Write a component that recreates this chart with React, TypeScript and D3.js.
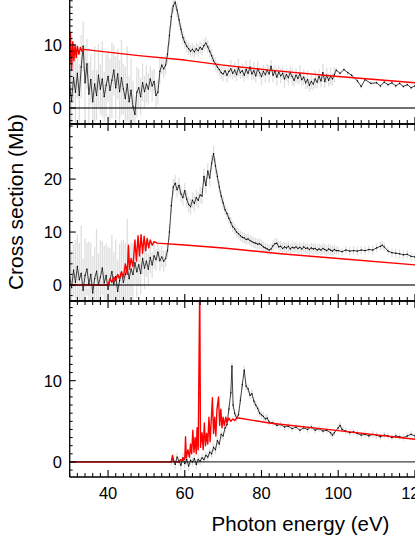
import React from "react";
import * as d3 from "d3";

// ---------- data ----------
const X_DOMAIN: [number, number] = [30, 122];
const X_MAJOR = [40, 60, 80, 100, 120];
const X_MINOR_STEP = 2;

// [energy eV, cross section Mb, error Mb]
const P1_DATA: [number, number, number][] = [
  [30.0,3.5,4],[30.5,1.2,5],[31.0,4.8,4],[31.5,2.5,6],[32.0,5.5,4],[32.5,2.0,5],[33.0,6.5,5],[33.5,9.8,4],
  [34.0,4.0,6],[34.5,7.0,4],[35.0,2.2,5],[35.5,4.5,4],[36.0,1.0,5],[36.5,3.8,6],[37.0,2.0,4],[37.5,5.2,5],
  [38.0,3.0,4],[38.5,4.6,6],[39.0,1.8,4],[39.5,3.6,5],[40.0,5.0,4],[40.5,2.8,5],[41.0,4.4,6],[41.5,6.0,4],
  [42.0,3.2,5],[42.5,5.4,4],[43.0,2.6,5],[43.5,4.8,6],[44.0,3.0,4],[44.5,1.5,5],[45.0,3.8,6],[45.5,1.0,4],
  [46.0,2.8,5],[46.5,0.2,4],[47.0,-1.0,3],[47.5,2.5,4],[48.0,3.2,3],[48.5,1.8,3],[49.0,4.0,3],[49.5,2.6,2.5],
  [50.0,3.8,3],[50.5,3.0,2.5],[51.0,4.6,2],[51.5,3.5,2.5],[52.0,4.2,2],[52.5,2.0,2],[53.0,2.5,2],[53.5,5.8,2],
  [54.0,6.8,1.5],[54.5,6.2,1.5],[55.0,6.8,1.5],[55.5,8.5,1.5],[56.0,11.5,1.5],[56.5,14.5,1.5],[57.0,16.2,1.2],
  [57.5,16.8,1.2],[58.0,15.5,1.2],[58.5,14.0,1.2],[59.0,12.5,1],[59.5,11.2,1],[60.0,10.4,1],[60.5,9.8,1],
  [61.0,9.4,1],[61.5,9.0,1],[62.0,9.3,1],[62.5,8.9,1],[63.0,9.4,1],[63.5,9.1,1],[64.0,9.6,1],[64.5,9.3,1],
  [65.0,9.9,1],[65.5,10.3,1],[66.0,9.7,1],[66.5,9.0,1],[67.0,8.3,1],[67.5,7.5,1],[68.0,7.0,1],[68.5,6.5,1],
  [69.0,6.1,1],[69.5,5.6,1],[70.0,5.4,1.2],[70.5,5.9,1],[71.0,5.2,1.2],[71.5,5.8,1],[72.0,6.2,1.4],[72.5,5.5,1],
  [73.0,6.0,1.2],[73.5,5.3,1],[74.0,6.4,1.4],[74.5,5.6,1],[75.0,5.9,1.2],[75.5,5.2,1],[76.0,6.1,1.4],[76.5,5.5,1],
  [77.0,6.5,1.2],[77.5,5.4,1],[78.0,5.9,1.4],[78.5,5.1,1],[79.0,6.2,1.2],[79.5,5.6,1],[80.0,5.0,1.4],[80.5,5.8,1],
  [81.0,5.3,1.2],[81.5,6.0,1],[82.0,5.4,1.4],[82.5,6.6,1],[83.0,5.2,1.2],[83.5,5.8,1],[84.0,4.9,1.4],[84.5,5.7,1],
  [85.0,5.1,1.2],[85.5,5.5,1],[86.0,4.6,1.4],[86.5,5.3,1],[87.0,4.8,1.2],[87.5,5.6,1],[88.0,5.0,1.4],[88.5,4.4,1],
  [89.0,5.2,1.2],[89.5,4.7,1],[90.0,5.4,1.4],[90.5,4.5,1],[91.0,4.9,1.2],[91.5,4.0,1],[92.0,4.5,1.4],[92.5,3.6,1],
  [93.0,4.2,1.2],[93.5,3.8,1],[94.0,4.6,1.4],[94.5,4.1,1],[95.0,5.0,1.2],[95.5,4.3,1],[96.0,5.6,1.4],[96.5,4.2,1],
  [97.0,5.2,1.2],[97.5,4.4,1],[98.0,5.0,1.4],[98.5,4.6,1],[99.0,5.3,1.2],
  [99.5,6.0,0.3],[100.5,5.5,0.3],[101.5,6.1,0.3],[102.5,5.6,0.3],[103.5,5.2,0.3],[105.0,4.3,0.3],[106.0,3.4,0.3],
  [107.0,4.5,0.3],[108.5,3.9,0.3],[110.0,4.0,0.3],[111.0,3.5,0.3],[112.0,4.1,0.3],[113.0,3.7,0.3],[114.0,4.0,0.3],
  [115.0,3.5,0.3],[116.0,3.9,0.3],[117.0,3.4,0.3],[118.0,3.7,0.3],[119.0,3.2,0.3],[120.0,3.5,0.3],[121.0,3.3,0.3],
];

const P1_THEORY: [number, number][] = [
  [30.0,7.0],[30.2,12.0],[30.5,6.0],[30.8,10.5],[31.1,7.5],[31.4,10.0],[31.7,8.0],[32.0,9.8],[32.4,8.5],
  [32.8,9.6],[33.2,9.0],[33.6,9.3],[48,8.3],[60,7.6],[70,6.8],[82,6.0],[100,5.0],[120,4.0],[122,3.9],
];

const P2_DATA: [number, number, number][] = [
  [30.0,1.5,6],[30.5,-0.5,7],[31.0,2.8,5],[31.5,0.5,8],[32.0,3.5,6],[32.5,1.0,7],[33.0,2.2,9],[33.5,-1.0,6],
  [34.0,1.8,7],[34.5,3.0,5],[35.0,0.2,8],[35.5,2.0,6],[36.0,-1.5,7],[36.5,1.2,6],[37.0,2.6,8],[37.5,0.0,6],
  [38.0,1.5,7],[38.5,3.2,5],[39.0,0.4,7],[39.5,1.8,6],[40.0,-0.8,8],[40.5,1.0,6],[41.0,2.5,7],[41.5,0.2,6],
  [42.0,1.6,7],[42.5,-1.2,6],[43.0,0.8,7],[43.5,2.4,6],[44.0,0.5,8],[44.5,2.0,6],[45.0,3.5,9],[45.5,1.2,6],
  [46.0,3.0,5],[46.5,2.0,6],[47.0,4.2,4],[47.5,2.5,5],[48.0,3.8,4],[48.5,2.2,4],[49.0,5.0,3],[49.5,3.2,4],
  [50.0,4.5,3],[50.5,3.0,3],[51.0,5.2,3],[51.5,3.8,2.5],[52.0,5.5,2.5],[52.5,4.8,2],[53.0,6.2,2],[53.5,4.6,2],
  [54.0,5.3,2],[54.5,4.5,2],[55.0,5.0,1.5],[55.5,6.5,1.5],[56.0,10.0,1.5],[56.5,15.0,1.5],[57.0,18.5,1.5],
  [57.5,19.2,1.5],[58.0,18.0,1.5],[58.5,18.8,1.5],[59.0,17.2,1.5],[59.5,16.5,1.5],[60.0,17.8,1.5],[60.5,16.2,1.5],
  [61.0,15.2,1.5],[61.5,14.8,1.5],[62.0,16.0,1.5],[62.5,15.4,1.5],[63.0,16.5,1.5],[63.5,16.0,1.5],[64.0,17.0,1.5],
  [64.5,16.8,1.5],[65.0,20.5,1.5],[65.5,18.8,1.5],[66.0,21.5,1.5],[66.5,20.2,1.5],[67.0,23.0,1.5],[67.5,24.8,1.5],
  [68.0,22.5,1.5],[68.5,20.5,1.2],[69.0,18.5,1.2],[69.5,16.8,1.2],[70.0,15.5,1.2],[70.5,14.2,1],[71.0,13.5,1],
  [71.5,12.6,1],[72.0,11.8,1],[72.5,11.0,1],[73.0,10.6,1],[73.5,10.0,1],[74.0,9.7,1],[74.5,9.3,1],[75.0,9.0,1],
  [75.5,8.9,1],[76.0,8.6,1],[76.5,8.7,1],[77.0,8.4,1],[77.5,8.2,1],[78.0,8.0,1],[78.5,7.9,1],[79.0,7.7,1],
  [79.5,7.8,1],[80.0,7.5,1],[80.5,7.2,1],[81.0,7.0,1],[81.5,6.8,1],[82.0,6.6,1],[82.5,6.8,1],[83.0,7.4,1],
  [83.5,7.8,1],[84.0,7.9,1],[84.5,7.2,1],[85.0,7.3,1],[85.5,6.9,1],[86.0,7.2,1],[86.5,7.0,1],[87.0,7.3,1],
  [87.5,6.8,1],[88.0,7.1,1],[88.5,7.0,1],[89.0,7.2,1],[89.5,6.9,1],[90.0,7.1,1],[90.5,6.8,1],[91.0,7.2,1],
  [91.5,6.9,1],[92.0,7.0,1],[92.5,6.7,1],[93.0,7.0,1],[93.5,6.8,1],[94.0,6.9,1],[94.5,6.6,1],[95.0,6.8,1],
  [95.5,6.6,1],[96.0,6.9,1],[96.5,6.7,1],[97.0,6.5,1],[97.5,6.8,1],[98.0,6.6,1],[98.5,6.4,1],[99.0,6.7,1],
  [99.5,6.5,0.8],[100,6.5,0.8],[101,6.3,0.8],[102,6.6,0.8],[103,6.4,0.8],[104,6.5,0.8],[105,6.4,0.8],[106,6.6,0.8],
  [107,6.5,0.8],[108,6.7,0.8],[109,6.6,0.8],[110,7.0,0.8],[111,7.3,0.8],[111.5,7.5,0.8],[112,7.2,0.8],[113,6.4,0.8],
  [114,6.1,0.8],[115,6.0,0.8],[116,5.9,0.8],[117,5.7,0.8],[118,5.8,0.8],[119,5.4,0.8],[120,5.3,0.8],[121,5.2,0.8],
];

const P2_THEORY: [number, number][] = [
  [30,0],[40,0],[40.5,1.2],[41,0.5],[41.5,1.5],[42,0.8],[42.5,2.0],[43,1.2],[43.5,2.5],[44,1.5],[44.5,4],
  [45,2],[45.3,7.5],[45.6,3],[46,5],[46.5,3.5],[47,8.5],[47.4,4.5],[47.8,9.3],[48.2,5.5],[48.6,9.5],[49,6],
  [49.4,9.2],[49.8,6.5],[50.2,8.8],[50.6,7],[51,8.5],[51.5,7.5],[52,8.2],[52.8,7.9],[60,7.55],[70,7.0],
  [85,5.9],[100,5.0],[120,3.8],[122,3.7],
];

const P3_DATA: [number, number, number][] = [
  [56.5,0.0,0.5],[57.0,0.4,0.6],[57.5,-0.3,0.6],[58.0,0.6,0.6],[58.5,0.1,0.6],[59.0,-0.4,0.6],[59.5,0.5,0.6],
  [60.0,-0.2,0.6],[60.5,0.3,0.6],[61.0,-0.5,0.6],[61.5,0.2,0.6],[62.0,0.0,0.6],[62.5,0.4,0.6],[63.0,-0.3,0.6],
  [63.5,0.3,0.6],[64.0,0.1,0.5],[64.5,0.5,0.5],[65.0,0.3,0.5],[65.5,0.8,0.5],[66.0,0.6,0.5],[66.5,1.2,0.5],
  [67.0,1.0,0.5],[67.5,1.8,0.5],[68.0,1.5,0.5],[68.5,2.6,0.5],[69.0,2.2,0.5],[69.5,3.4,0.5],[70.0,3.2,0.5],
  [70.5,4.2,0.5],[71.0,4.6,0.5],[71.5,6.5,0.5],[72.0,8.5,0.5],[72.3,11.8,0.5],[72.6,7.0,0.5],[73.0,6.0,0.5],
  [73.5,5.4,0.5],[74.0,5.8,0.5],[74.5,7.6,0.5],[75.0,9.5,0.5],[75.5,11.3,0.5],[76.0,9.3,0.5],[76.5,9.0,0.5],
  [77.0,8.2,0.5],[77.5,8.4,0.5],[78.0,7.5,0.5],[78.5,7.0,0.5],[79.0,6.6,0.5],[79.5,6.0,0.5],[80.0,5.8,0.5],
  [80.5,5.6,0.5],[81.0,5.3,0.5],[81.5,5.4,0.5],[82.0,4.9,0.4],[83,4.8,0.4],[84,4.5,0.4],[85,4.6,0.4],[86,4.3,0.4],
  [87,4.4,0.4],[88,4.1,0.4],[89,4.3,0.4],[90,3.9,0.4],[91,4.2,0.4],[92,4.0,0.4],[93,4.3,0.4],[94,3.9,0.4],
  [95,4.1,0.4],[96,3.8,0.4],[97,3.9,0.4],[98,3.6,0.4],[98.5,3.3,0.4],[99,3.6,0.4],[100,4.2,0.4],[100.5,4.5,0.4],
  [101,4.0,0.4],[102,3.8,0.4],[103,3.6,0.4],[104,3.7,0.4],[105,3.5,0.4],[106,3.3,0.4],[107,3.4,0.4],[108,3.2,0.4],
  [109,3.4,0.4],[110,3.3,0.4],[111,3.1,0.4],[112,3.3,0.4],[113,3.2,0.4],[114,3.0,0.4],[115,3.2,0.4],[116,3.1,0.4],
  [117,3.0,0.4],[118,3.2,0.4],[119,3.4,0.4],[120,3.2,0.4],[121,3.0,0.4],
];

const P3_THEORY: [number, number][] = [
  [30,0],[56.5,0],[56.8,0.8],[57.1,0],[58.5,0],[59,0.3],[59.3,0.2],[59.6,0.5],[60,0.3],[60.2,3.1],[60.4,0.5],
  [60.8,1.5],[61.2,0.6],[61.5,2.2],[61.8,1.0],[62.1,3.9],[62.4,1.2],[62.7,3.0],[63.0,1.0],[63.2,4.2],[63.5,1.5],
  [63.9,22],[64.1,1.8],[64.5,3.6],[64.8,1.5],[65.1,4.8],[65.4,2.0],[65.7,3.5],[66.0,2.2],[66.3,5.5],[66.6,2.5],
  [67.0,6.0],[67.2,7.9],[67.5,3.5],[67.8,5.5],[68.1,3.2],[68.4,6.5],[68.8,8.0],[69.1,4.5],[69.4,6.5],[69.7,4.2],
  [70.0,5.5],[70.3,4.5],[70.7,5.5],[71.0,4.8],[71.5,5.4],[72,5.0],[72.5,5.3],[73,5.1],[73.5,5.4],[74,5.4],
  [82,4.8],[100,3.85],[120,2.8],[122,2.7],
];

const Y_LABEL = "Cross section (Mb)";
const X_LABEL = "Photon energy (eV)";

const PANELS = [
  { id: "p1", top: -20, bottom: 124, domain: [-2.54, 20.3] as [number, number], major: [0, 10], minorStep: 1,
    data: P1_DATA, theory: P1_THEORY },
  { id: "p2", top: 124, bottom: 301, domain: [-3.02, 30.4] as [number, number], major: [0, 10, 20], minorStep: 2,
    data: P2_DATA, theory: P2_THEORY },
  { id: "p3", top: 301, bottom: 477, domain: [-1.85, 19.8] as [number, number], major: [0, 10], minorStep: 1,
    data: P3_DATA, theory: P3_THEORY },
];

const FONT = "'Liberation Sans', Arial, Helvetica, sans-serif";

export default function App() {
  const W = 415, H = 537;
  const left = 69.7, right = 422.6;
  const x = d3.scaleLinear().domain(X_DOMAIN).range([left, right]);
  const xMinor = d3.range(X_DOMAIN[0], X_DOMAIN[1] + 0.001, X_MINOR_STEP).filter((v) => !X_MAJOR.includes(v));

  return (
    <svg width={W} height={H} style={{ position: "absolute", left: 0, top: 0, background: "#fff" }}
      fontFamily={FONT}>
      <defs>
        {PANELS.map((p) => (
          <clipPath id={`clip-${p.id}`} key={p.id}>
            <rect x={left} y={p.top} width={right - left} height={p.bottom - p.top} />
          </clipPath>
        ))}
      </defs>
      {PANELS.map((p) => {
        const y = d3.scaleLinear().domain(p.domain).range([p.bottom, p.top]);
        const line = d3.line<[number, number, number]>().x((d) => x(d[0])).y((d) => y(d[1]));
        const tline = d3.line<[number, number]>().x((d) => x(d[0])).y((d) => y(d[1]));
        const yMinor = d3.range(Math.ceil(p.domain[0] / p.minorStep) * p.minorStep, p.domain[1], p.minorStep)
          .filter((v) => !p.major.includes(v));
        const yMajor = p.major.filter((v) => v >= p.domain[0] && v <= p.domain[1]);
        return (
          <g key={p.id}>
            <g clipPath={`url(#clip-${p.id})`}>
              {p.data.map((d, i) => (
                <line key={i} x1={x(d[0])} x2={x(d[0])} y1={y(d[1] - d[2])} y2={y(d[1] + d[2])}
                  stroke="#c4c4c4" strokeOpacity={0.55} strokeWidth={1.3} />
              ))}
              <path d={line(p.data) || ""} fill="none" stroke="#111" strokeWidth={0.8} />
              {p.data.map((d, i) => (
                <rect key={"m" + i} x={x(d[0]) - 0.6} y={y(d[1]) - 0.6} width={1.2} height={1.2} fill="#000" />
              ))}
              <path d={tline(p.theory) || ""} fill="none" stroke="#ff0000" strokeWidth={1.4}
                strokeLinejoin="round" />
              <line x1={left} x2={right} y1={y(0)} y2={y(0)} stroke="#000" strokeOpacity={0.75} strokeWidth={1.3} />
            </g>
            {/* frame */}
            <line x1={left} x2={left} y1={p.top} y2={p.bottom} stroke="#000" strokeWidth={1.3} />
            <line x1={left} x2={right} y1={p.bottom} y2={p.bottom} stroke="#000" strokeWidth={1.3} />
            <line x1={left} x2={right} y1={p.top} y2={p.top} stroke="#000" strokeWidth={1.3} />
            <line x1={right} x2={right} y1={p.top} y2={p.bottom} stroke="#000" strokeWidth={1.3} />
            {/* x ticks, inward on top and bottom */}
            {X_MAJOR.map((v) => (
              <g key={"xM" + v}>
                <line x1={x(v)} x2={x(v)} y1={p.bottom} y2={p.bottom - 7} stroke="#000" strokeWidth={1.1} />
                <line x1={x(v)} x2={x(v)} y1={p.top} y2={p.top + 7} stroke="#000" strokeWidth={1.1} />
              </g>
            ))}
            {xMinor.map((v) => (
              <g key={"xm" + v}>
                <line x1={x(v)} x2={x(v)} y1={p.bottom} y2={p.bottom - 4} stroke="#000" strokeWidth={1} />
                <line x1={x(v)} x2={x(v)} y1={p.top} y2={p.top + 4} stroke="#000" strokeWidth={1} />
              </g>
            ))}
            {/* y ticks */}
            {yMajor.map((v) => (
              <g key={"yM" + v}>
                <line x1={left} x2={left + 6} y1={y(v)} y2={y(v)} stroke="#000" strokeWidth={1.1} />
                <text x={62} y={y(v)} dy="0.36em" textAnchor="end" fontSize={16.5} fill="#000">{v}</text>
              </g>
            ))}
            {yMinor.map((v) => (
              <line key={"ym" + v} x1={left} x2={left + 3} y1={y(v)} y2={y(v)} stroke="#000" strokeWidth={1} />
            ))}
          </g>
        );
      })}
      {X_MAJOR.map((v) => (
        <text key={"xl" + v} x={x(v)} y={499} textAnchor="middle" fontSize={16.5} fill="#000">{v}</text>
      ))}
      <text x={300.5} y={531} textAnchor="middle" fontSize={20.5} fill="#000">{X_LABEL}</text>
      <text transform="translate(23,202) rotate(-90)" textAnchor="middle" fontSize={21} fill="#000">{Y_LABEL}</text>
    </svg>
  );
}
